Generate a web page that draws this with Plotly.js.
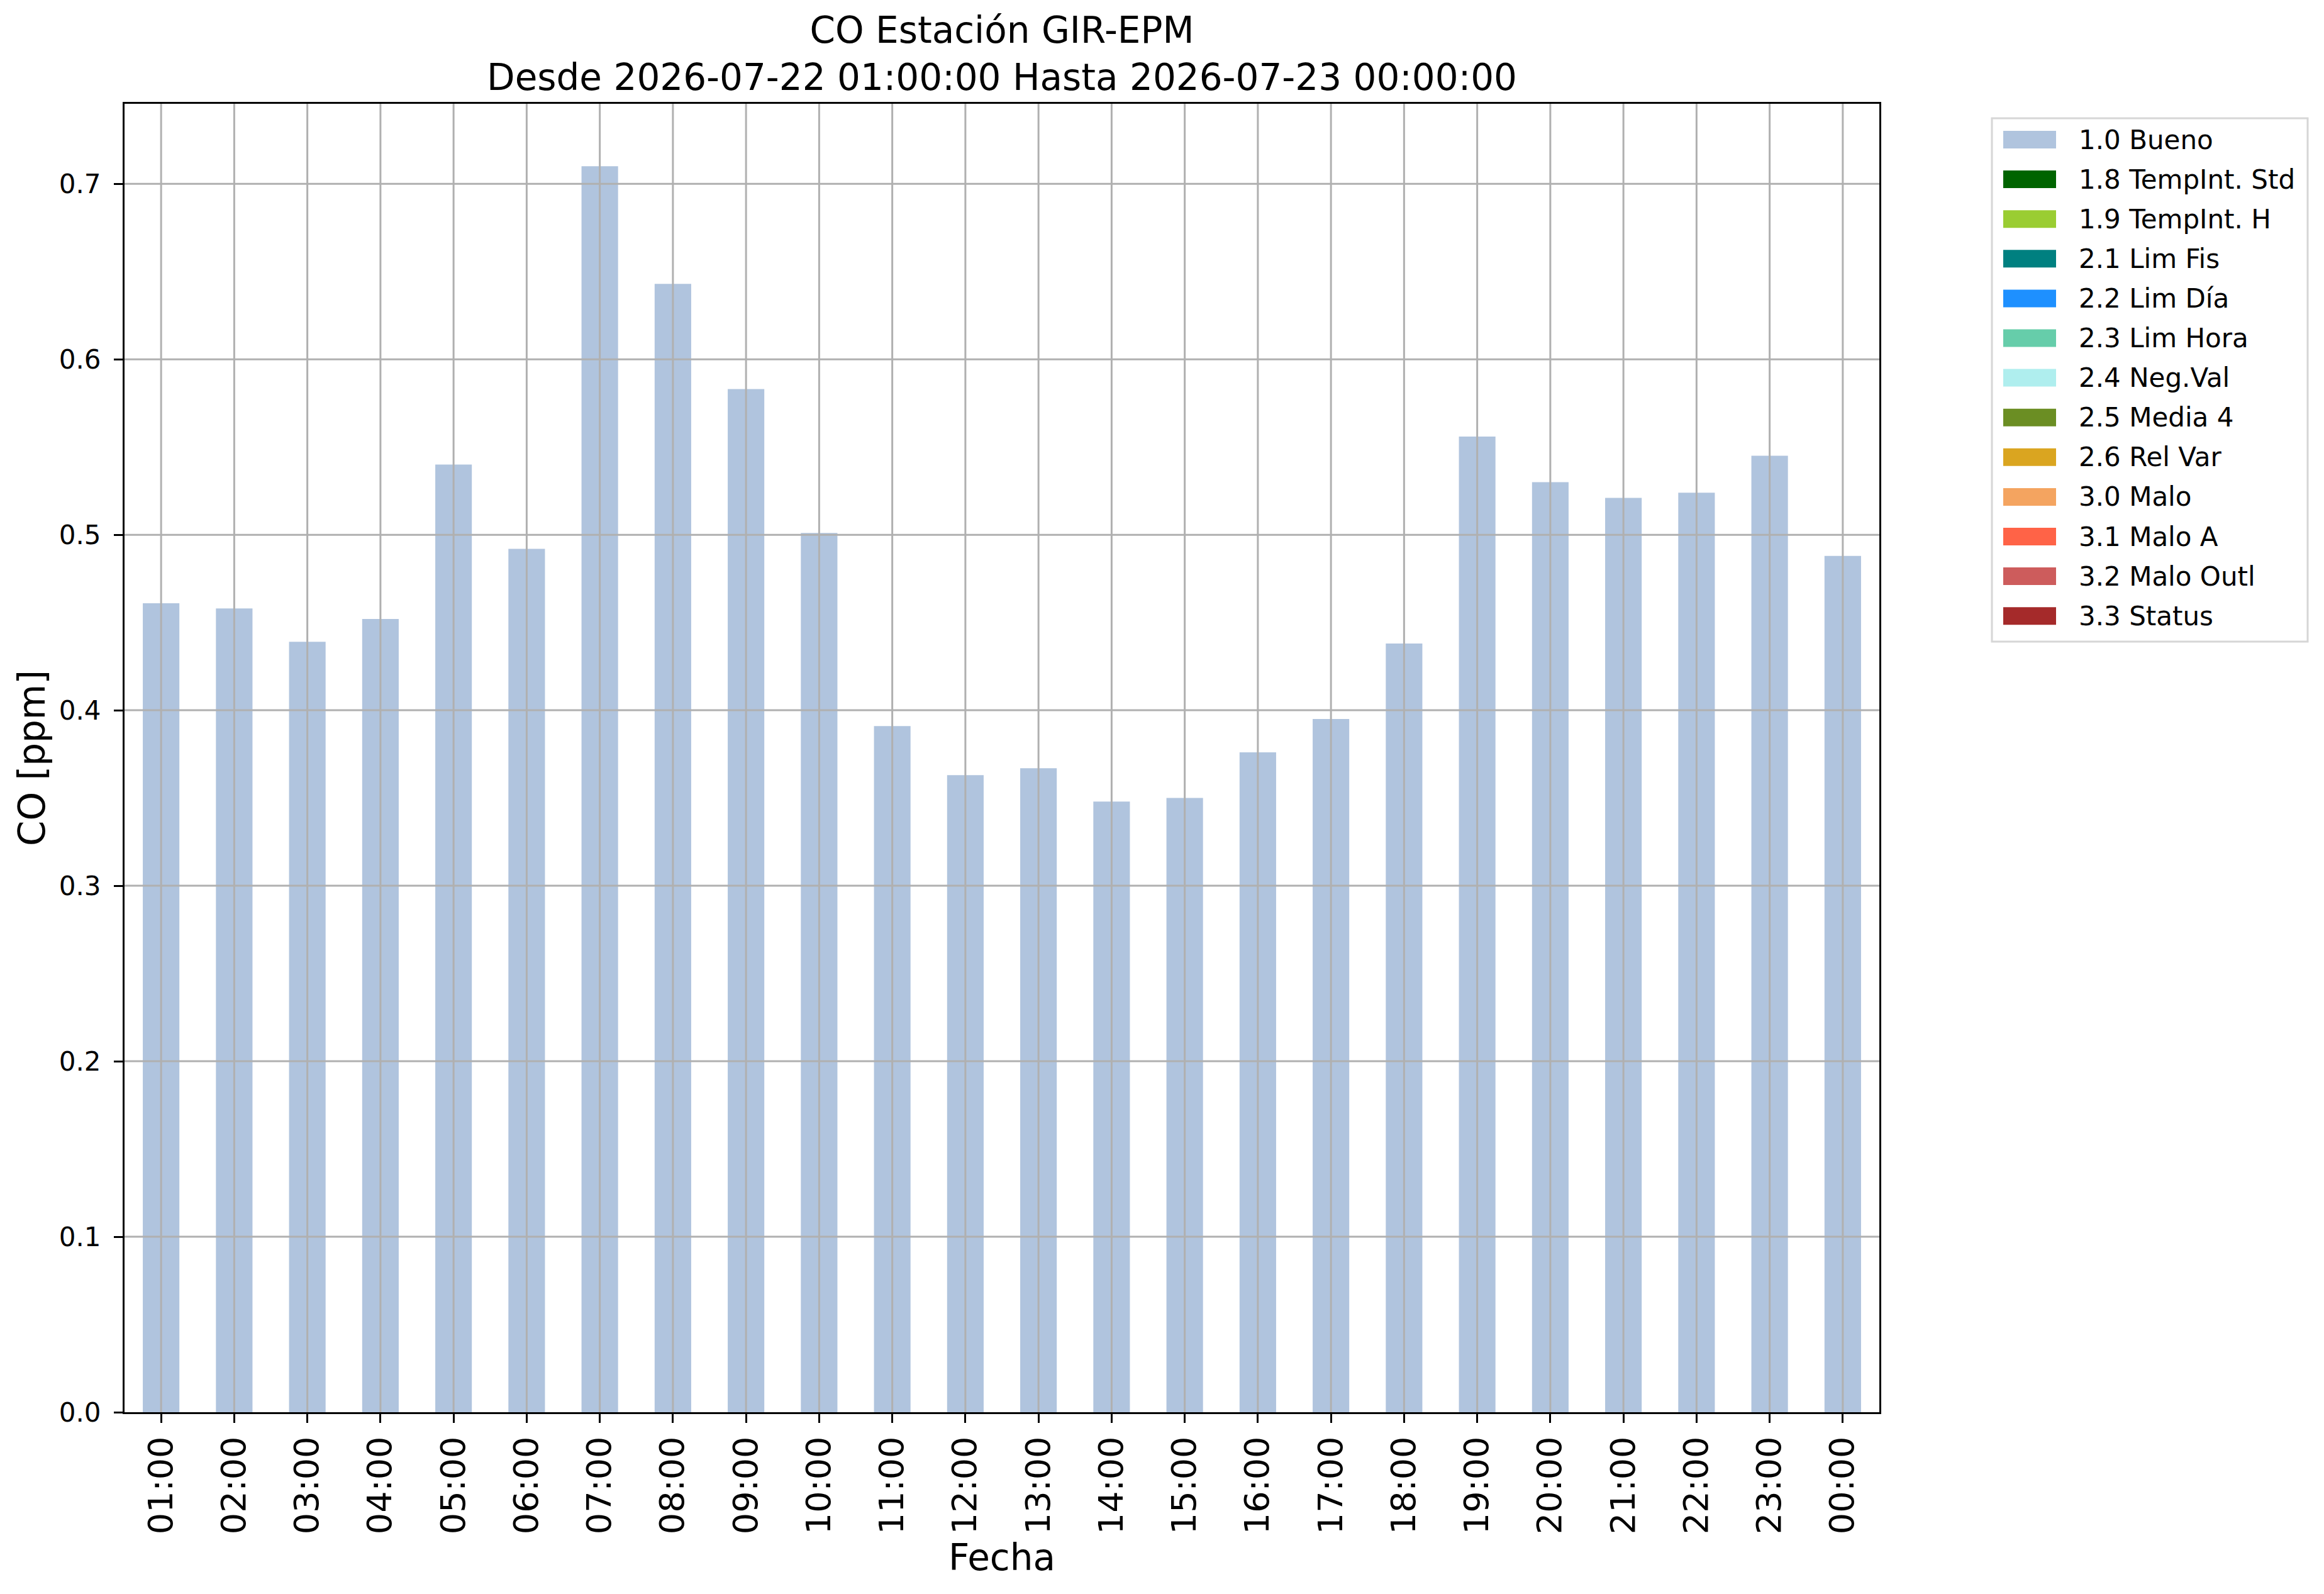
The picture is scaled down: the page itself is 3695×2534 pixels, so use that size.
<!DOCTYPE html>
<html>
<head>
<meta charset="utf-8">
<script src="https://cdn.plot.ly/plotly-3.0.1.min.js"></script>
<style>
  html, body { margin: 0; padding: 0; background: #fff; }
  #divPlot { width: 3695px; height: 2534px; }
</style>
</head>
<body>
<div id="divPlot"></div>
<script>
// hourly CO values, 2026-07-22 01:00 .. 2026-07-23 00:00
const hours = ['01:00', '02:00', '03:00', '04:00', '05:00', '06:00', '07:00', '08:00',
               '09:00', '10:00', '11:00', '12:00', '13:00', '14:00', '15:00', '16:00',
               '17:00', '18:00', '19:00', '20:00', '21:00', '22:00', '23:00', '00:00'];
const bueno = [0.461, 0.458, 0.439, 0.452, 0.540, 0.492, 0.710, 0.643,
               0.583, 0.501, 0.391, 0.363, 0.367, 0.348, 0.350, 0.376,
               0.395, 0.438, 0.556, 0.530, 0.521, 0.524, 0.545, 0.488];

// quality flags (no flagged values in this period)
const flagNames = ['1.0 Bueno', '1.8 TempInt. Std', '1.9 TempInt. H', '2.1 Lim Fis',
                   '2.2 Lim Día', '2.3 Lim Hora', '2.4 Neg.Val', '2.5 Media 4',
                   '2.6 Rel Var', '3.0 Malo', '3.1 Malo A', '3.2 Malo Outl', '3.3 Status'];
const flagColors = ['#B0C4DE', '#006400', '#9ACD32', '#008080', '#1E90FF', '#66CDAA',
                    '#AFEEEE', '#6B8E23', '#DAA520', '#F4A460', '#FF6347', '#CD5C5C',
                    '#A52A2A'];
const flaggedValues = [];

const yTicks = [0.0, 0.1, 0.2, 0.3, 0.4, 0.5, 0.6, 0.7];

const W = 3695, H = 2534;
const M = {l: 198, r: 707, t: 165, b: 289};
const plotW = W - M.l - M.r, plotH = H - M.t - M.b;
const px2x = p => (p - M.l) / plotW;
const px2y = p => (H - M.b - p) / plotH;

const font = 'DejaVu Sans, Verdana, sans-serif';
const gridColor = '#b0b0b0';

const data = flagNames.map((name, i) => ({
  type : 'bar',
  name : name,
  x : i === 0 ? hours : [],
  y : i === 0 ? bueno : flaggedValues,
  width : 0.5,
  marker : {color : flagColors[i], line : {width : 0}},
  showlegend : false,
  hoverinfo : 'x+y+name'
}));

// grid drawn over the bars, as matplotlib does here
const shapes = [];
hours.forEach(h => shapes.push({
  type : 'line', layer : 'above', xref : 'x', yref : 'paper',
  x0 : h, x1 : h, y0 : 0, y1 : 1, line : {color : gridColor, width : 3}
}));
yTicks.slice(1).forEach(v => shapes.push({
  type : 'line', layer : 'above', xref : 'paper', yref : 'y',
  x0 : 0, x1 : 1, y0 : v, y1 : v, line : {color : gridColor, width : 3}
}));

// legend drawn by hand so the swatches keep matplotlib proportions
shapes.push({
  type : 'rect', xref : 'paper', yref : 'paper',
  x0 : px2x(3167), x1 : px2x(3669), y0 : px2y(188), y1 : px2y(1020),
  fillcolor : 'rgba(255,255,255,0.8)', line : {color : '#d6d6d6', width : 3}
});
const annotations = [];
flagNames.forEach((name, i) => {
  const cy = 222 + i * 63.1;
  shapes.push({
    type : 'rect', xref : 'paper', yref : 'paper',
    x0 : px2x(3185), x1 : px2x(3269), y0 : px2y(cy - 14), y1 : px2y(cy + 14),
    fillcolor : flagColors[i], line : {width : 0}
  });
  annotations.push({
    xref : 'paper', yref : 'paper', x : px2x(3303), y : px2y(cy),
    xanchor : 'left', yanchor : 'middle', showarrow : false,
    text : name, font : {family : font, size : 42, color : '#000'}
  });
});

const layout = {
  width : W,
  height : H,
  margin : M,
  paper_bgcolor : '#fff',
  plot_bgcolor : '#fff',
  barmode : 'stack',
  showlegend : false,
  font : {family : font, color : '#000'},
  title : {
    text : 'CO Estación GIR-EPM<br>Desde 2026-07-22 01:00:00 Hasta 2026-07-23 00:00:00',
    font : {family : font, size : 58, color : '#000'},
    x : 0.5, xref : 'paper', xanchor : 'center',
    y : 1 - 68 / H, yref : 'container', yanchor : 'top'
  },
  xaxis : {
    type : 'category',
    categoryorder : 'array',
    categoryarray : hours,
    range : [-0.5, 23.5],
    tickangle : -90,
    tickfont : {family : font, size : 54, color : '#000'},
    ticks : 'outside', ticklen : 14, tickwidth : 3, tickcolor : '#000',
    showgrid : false,
    showline : true, linecolor : '#000', linewidth : 3, mirror : true,
    zeroline : false,
    layer : 'above traces',
    title : {text : 'Fecha', font : {family : font, size : 58, color : '#000'}, standoff : 18},
    automargin : false
  },
  yaxis : {
    range : [0, 0.7456],
    tickvals : yTicks,
    tickformat : '.1f',
    tickfont : {family : font, size : 42, color : '#000'},
    ticks : 'outside', ticklen : 14, tickwidth : 3, tickcolor : '#000',
    ticklabelstandoff : 12,
    showgrid : false,
    showline : true, linecolor : '#000', linewidth : 3, mirror : true,
    zeroline : false,
    layer : 'above traces',
    title : {text : 'CO [ppm]', font : {family : font, size : 58, color : '#000'}, standoff : 4},
    automargin : false
  },
  shapes : shapes,
  annotations : annotations
};

Plotly.newPlot('divPlot', data, layout, {displayModeBar : false, staticPlot : true});
</script>
</body>
</html>
